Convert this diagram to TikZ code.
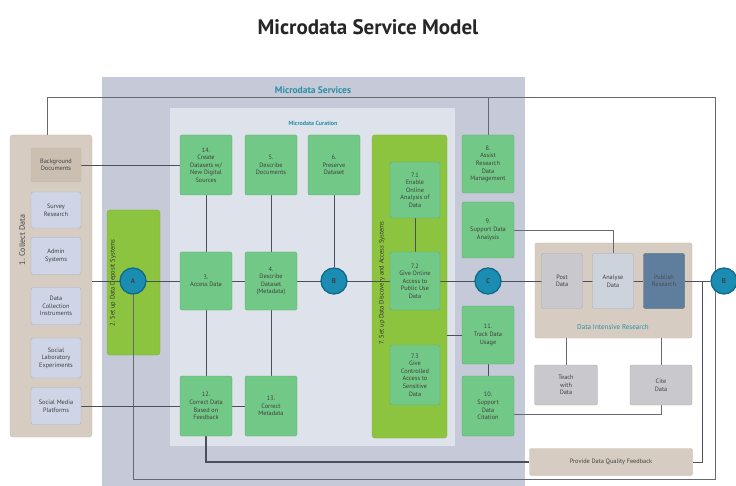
\documentclass[tikz,border=0pt]{standalone}
\usepackage{fontspec}
\setmainfont{PT Sans}
\usetikzlibrary{calc}
\definecolor{cserv}{HTML}{C5C9D8}
\definecolor{ccur}{HTML}{DEE2EB}
\definecolor{cgreen}{HTML}{72C886}
\definecolor{cgreenD}{HTML}{5EB071}
\definecolor{clime}{HTML}{8CC43F}
\definecolor{climeD}{HTML}{79AE33}
\definecolor{ctan}{HTML}{D7CCC1}
\definecolor{ctanD}{HTML}{C4B7A9}
\definecolor{cbgdoc}{HTML}{CBBFB1}
\definecolor{cblue}{HTML}{CDD5E6}
\definecolor{cblueD}{HTML}{A8B1C4}
\definecolor{cgray}{HTML}{C9C9CD}
\definecolor{cgrayD}{HTML}{ABABB0}
\definecolor{cana}{HTML}{CDD3DC}
\definecolor{cpub}{HTML}{5F7E9E}
\definecolor{cteal}{HTML}{1B8DB3}
\definecolor{ctealD}{HTML}{0F6A88}
\definecolor{ctext}{HTML}{2A8FA8}
\definecolor{cline}{HTML}{4A4F5A}
\pgfdeclarelayer{bg}
\pgfdeclarelayer{lines}
\pgfsetlayers{bg,lines,main}
\tikzset{
  box/.style={rectangle, rounded corners=2pt, align=center, inner sep=1pt,
    font=\fontsize{6.3}{7.6}\selectfont, text=black!75, minimum width=52pt},
  gbox/.style={box, fill=cgreen, draw=cgreenD},
  bbox/.style={box, fill=cblue, draw=cblueD, minimum width=50pt},
  graybox/.style={box, fill=cgray, draw=cgrayD},
  circ/.style={circle, fill=cteal, draw=ctealD, line width=1.3pt, minimum size=26pt,
    inner sep=0pt, font=\bfseries\fontsize{7}{8}\selectfont, text=black!75},
  ln/.style={draw=cline, line width=0.9pt},
  lnthin/.style={draw=cline!85, line width=0.8pt},
  lnthick/.style={draw=cline, line width=1.7pt},
  panel/.style={rectangle, inner sep=0pt},
  ttl/.style={text=ctext, font=\bfseries}
}
\begin{document}
\begin{tikzpicture}[x=1pt,y=-1pt]
\useasboundingbox (0,0) rectangle (736,486);
\node[font=\bfseries\fontsize{21}{24}\selectfont, text=black!85] (title) at (368,27) {Microdata Service Model};

\begin{pgfonlayer}{bg}
\node[panel, fill=cserv, minimum width=423pt, minimum height=409pt] (serv) at (313.5,281.5) {};
\node[panel, fill=ccur, minimum width=285pt, minimum height=338pt] (cur) at (312.5,277) {};
\node[panel, fill=ctan, draw=ctanD, rounded corners=3pt, minimum width=82pt, minimum height=302pt] (collect) at (51,286) {};
\node[panel, fill=clime, draw=climeD, rounded corners=3pt, minimum width=53pt, minimum height=145pt] (g2) at (133.5,282.5) {};
\node[panel, fill=clime, draw=climeD, rounded corners=3pt, minimum width=75pt, minimum height=303pt] (g7) at (409.5,286.5) {};
\node[panel, fill=ctan, draw=ctanD, rounded corners=2pt, minimum width=157pt, minimum height=95pt] (dir) at (613.5,290.5) {};
\node[ttl, font=\bfseries\fontsize{9.5}{11}\selectfont] (tserv) at (313,90) {Microdata Services};
\node[ttl, font=\bfseries\fontsize{6}{7}\selectfont] (tcur) at (313,123) {Microdata Curation};
\node[ttl, font=\fontsize{7}{8}\selectfont] (tdir) at (613,327) {Data Intensive Research};
\node[rotate=90, font=\fontsize{8}{9}\selectfont, text=black!75] (tcollect) at (22,240) {1. Collect Data};
\node[rotate=90, font=\fontsize{6.5}{7.5}\selectfont, text=black!80] (tg2) at (113,283) {2. Set up Data Deposit Systems};
\node[rotate=90, font=\fontsize{6.5}{7.5}\selectfont, text=black!80] (tg7) at (382,283) {7. Set up Data Discovery and Access Systems};
\end{pgfonlayer}

% collect data boxes
\node[box, fill=cbgdoc, draw=ctanD, minimum width=50pt, minimum height=34pt] (bgdoc) at (56,165) {Background\\Documents};
\node[bbox, minimum height=36pt] (survey) at (56,210) {Survey\\Research};
\node[bbox, minimum height=37pt] (admin) at (56,256) {Admin\\Systems};
\node[bbox, minimum height=37pt] (dci) at (56,306) {Data\\Collection\\Instruments};
\node[bbox, minimum height=40pt] (social1) at (56,358) {Social\\Laboratory\\Experiments};
\node[bbox, minimum height=37pt] (social) at (56,406) {Social Media\\Platforms};

% circles
\node[circ] (A) at (133,281) {A};
\node[circ] (B) at (334,281) {B};
\node[circ] (C) at (488,281) {C};
\node[circ] (B2) at (724,281) {B};

% curation boxes
\node[gbox, minimum height=60pt] (n14) at (206,165) {14.\\Create\\Datasets w/\\New Digital\\Sources};
\node[gbox, minimum height=60pt] (n5) at (271,165) {5.\\Describe\\Documents};
\node[gbox, minimum height=60pt] (n6) at (334,165) {6.\\Preserve\\Dataset};
\node[gbox, minimum height=58pt] (n3) at (206,281) {3.\\Access Data};
\node[gbox, minimum height=58pt] (n4) at (271,281) {4.\\Describe\\Dataset\\(Metadata)};
\node[gbox, minimum height=60pt] (n12) at (206,406) {12.\\Correct Data\\Based on\\Feedback};
\node[gbox, minimum height=60pt] (n13) at (271,406) {13.\\Correct\\Metadata};

% discovery boxes
\node[gbox, minimum width=50pt, minimum height=56pt] (n71) at (415,190) {7.1\\Enable\\Online\\Analysis of\\Data};
\node[gbox, minimum width=50pt, minimum height=58pt] (n72) at (415,281) {7.2\\Give Online\\Access to\\Public Use\\Data};
\node[gbox, minimum width=50pt, minimum height=60pt] (n73) at (415,375) {7.3\\Give\\Controlled\\Access to\\Sensitive\\Data};

% right column
\node[gbox, minimum height=58pt] (n8) at (488,164) {8.\\Assist\\Research\\Data\\Management};
\node[gbox, minimum height=56pt] (n9) at (488,230) {9.\\Support Data\\Analysis};
\node[gbox, minimum height=58pt] (n11) at (488,335) {11.\\Track Data\\Usage};
\node[gbox, minimum height=60pt] (n10) at (488,406) {10.\\Support\\Data\\Citation};

% data intensive research
\node[graybox, minimum width=41pt, minimum height=55pt] (post) at (562,281) {Post\\Data};
\node[box, fill=cana, draw=cgrayD, minimum width=41pt, minimum height=55pt] (analyse) at (613,281) {Analyse\\Data};
\node[box, fill=cpub, draw=cpub!80!black, text=black!70, minimum width=41pt, minimum height=55pt] (pub) at (664,281) {Publish\\Research};
\node[graybox, minimum width=63pt, minimum height=40pt] (teach) at (566,385) {Teach\\with\\Data};
\node[graybox, minimum width=62pt, minimum height=40pt] (cite) at (661,385) {Cite\\Data};
\node[box, fill=ctan, draw=ctanD, minimum width=163pt, minimum height=27pt] (fbk) at (611,462) {Provide Data Quality Feedback};

\coordinate (tl) at (47,97);
\coordinate (tr) at (715,97);
\coordinate (br) at (715,479);
\coordinate (d1) at (702,281);

\begin{pgfonlayer}{lines}
\draw[lnthin] (collect.north -| tl) -- (tl) -- (tr) -- (br) -- (br -| A) -- (A);
\draw[lnthin] (n8) -- (n8 |- tl);
\draw[ln] (collect.east |- A) -- (pub);
\draw[ln] (pub) -- (B2);
\draw[ln] (d1) |- (fbk);
\draw[lnthick] (fbk) -| (n12);
\draw[ln] (n14) -- (n12);
\draw[ln] (n5) -- (n13);
\draw[ln] (n6) -- (B);
\draw[ln] (n71) -- (n72);
\draw[ln] (n11) -- (n10);
\draw[ln] (bgdoc) -- (n14);
\draw[ln] (social) -- (n13);
\draw[ln] (g7.east |- n11) -- (n11);
\draw[lnthin] (n9) -| (analyse);
\draw[lnthin] ([yshift=-8pt]n10.center) -| (cite);
\draw[lnthin] (teach) -- (teach |- dir.south);
\draw[lnthin] (cite) -- (cite |- dir.south);
\end{pgfonlayer}
\end{tikzpicture}
\end{document}
